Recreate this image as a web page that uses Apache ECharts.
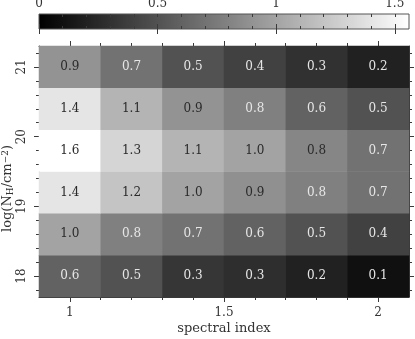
<!DOCTYPE html>
<html><head><meta charset="utf-8">
<script src="https://cdn.jsdelivr.net/npm/echarts@6/dist/echarts.min.js"></script>
<style>html,body{margin:0;padding:0;background:#fff}#c{width:415px;height:339px}</style>
</head><body><div id="c"></div>
<script>
// ---- data ----
const spectralIndex = [1.0, 1.2, 1.4, 1.6, 1.8, 2.0];
const logNH = [18.0, 18.6, 19.2, 19.8, 20.4, 21.0];
const row18_0 = [0.60, 0.50, 0.33, 0.28, 0.20, 0.10];
const row18_6 = [1.00, 0.78, 0.70, 0.60, 0.50, 0.40];
const row19_2 = [1.40, 1.20, 1.00, 0.88, 0.78, 0.70];
const row19_8 = [1.60, 1.30, 1.10, 1.00, 0.82, 0.70];
const row20_4 = [1.40, 1.10, 0.90, 0.78, 0.60, 0.50];
const row21_0 = [0.90, 0.70, 0.50, 0.40, 0.30, 0.20];
const rows = [row18_0, row18_6, row19_2, row19_8, row20_4, row21_0];

const xRange = [0.9, 2.1];
const yRange = [17.7, 21.3];
const cbRange = [0, 1.56];
const xMajorTicks = [1, 1.5, 2];
const xMinorTicks = [1.0, 1.1, 1.2, 1.3, 1.4, 1.5, 1.6, 1.7, 1.8, 1.9, 2.0];
const yMajorTicks = [18, 19, 20, 21];
const yMinorTicks = [17.8, 18.0, 18.2, 18.4, 18.6, 18.8, 19.0, 19.2, 19.4, 19.6, 19.8, 20.0, 20.2, 20.4, 20.6, 20.8, 21.0, 21.2];
const cbMajorTicks = [0, 0.5, 1, 1.5];
const cbMinorTicks = [0.1, 0.2, 0.3, 0.4, 0.5, 0.6, 0.7, 0.8, 0.9, 1.0, 1.1, 1.2, 1.3, 1.4, 1.5];
const xTitle = 'spectral index';

// ---- build ----
const FONT = 'DejaVu Serif';
const LINE = '#3a3a3a';
const heatData = [];
rows.forEach((r, yi) => r.forEach((v, xi) => heatData.push([xi, yi, v])));

function tickAxis(base, ticks, len, inside, showLabels, labelVals, extra) {
  return Object.assign({
    type: 'value', min: base.min, max: base.max, gridIndex: base.grid, position: base.pos,
    axisLine: { show: false, lineStyle: { color: LINE, width: 1 } },
    axisTick: { show: true, inside: inside, length: len, customValues: ticks, lineStyle: { color: LINE, width: 1 } },
    axisLabel: showLabels ? { show: true, customValues: labelVals, fontFamily: FONT, fontSize: 12, color: '#333', margin: base.margin } : { show: false },
    splitLine: { show: false }
  }, extra || {});
}

const xb = { min: xRange[0], max: xRange[1], grid: 0 };
const yb = { min: yRange[0], max: yRange[1], grid: 0 };
const cb = { min: cbRange[0], max: cbRange[1], grid: 1 };

const option = {
  animation: false,
  backgroundColor: '#fff',
  grid: [
    { left: 39, right: 6, top: 46, bottom: 42, show: false, containLabel: false, outerBoundsMode: 'none' },
    { left: 39, right: 6, top: 14, height: 15, show: true, borderColor: '#555', borderWidth: 1, containLabel: false, outerBoundsMode: 'none',
      backgroundColor: { type: 'linear', x: 0, y: 0, x2: 1, y2: 0, colorStops: [{ offset: 0, color: '#000' }, { offset: 1, color: '#fff' }] } }
  ],
  visualMap: { type: 'continuous', show: false, min: cbRange[0], max: cbRange[1], seriesIndex: 0, inRange: { color: ['#000000', '#ffffff'] } },
  xAxis: [
    { type: 'category', gridIndex: 0, data: spectralIndex, show: false },
    tickAxis(Object.assign({ pos: 'bottom', margin: 10 }, xb), xMajorTicks, 5, false, true, xMajorTicks,
      { axisLine: { show: true, lineStyle: { color: LINE } }, name: xTitle, nameLocation: 'middle', nameGap: 25, nameMoveOverlap: false,
        nameTextStyle: { fontFamily: FONT, fontSize: 13, color: '#333' } }),
    tickAxis(Object.assign({ pos: 'bottom' }, xb), xMinorTicks, 3, false, false),
    tickAxis(Object.assign({ pos: 'top' }, xb), xMajorTicks, 5, false, false, null, { axisLine: { show: true, lineStyle: { color: LINE } } }),
    tickAxis(Object.assign({ pos: 'top' }, xb), xMinorTicks, 3, false, false),
    // colorbar
    tickAxis(Object.assign({ pos: 'top', margin: 4 }, cb), cbMajorTicks, 5, true, true, cbMajorTicks),
    tickAxis(Object.assign({ pos: 'top' }, cb), cbMinorTicks, 3, true, false),
    tickAxis(Object.assign({ pos: 'bottom' }, cb), cbMajorTicks, 5, true, false),
    tickAxis(Object.assign({ pos: 'bottom' }, cb), cbMinorTicks, 3, true, false)
  ],
  yAxis: [
    { type: 'category', gridIndex: 0, data: logNH, show: false },
    tickAxis(Object.assign({ pos: 'left', margin: 11 }, yb), yMajorTicks, 5, false, true, yMajorTicks,
      { axisLine: { show: true, lineStyle: { color: LINE } },
        axisLabel: { show: true, customValues: yMajorTicks, rotate: 90, fontFamily: FONT, fontSize: 12, color: '#333', margin: 11 },
        name: 'log(N{sub|H}/cm{sup|−2})', nameLocation: 'middle', nameGap: 24, nameRotate: 90, nameMoveOverlap: false,
        nameTextStyle: { fontFamily: FONT, fontSize: 13, color: '#333', lineHeight: 14, padding: [0, 34, 0, 0],
          rich: { sub: { fontFamily: FONT, fontSize: 9, color: '#333', verticalAlign: 'bottom', lineHeight: 14 },
                  sup: { fontFamily: FONT, fontSize: 9, color: '#333', verticalAlign: 'top', lineHeight: 14 } } } }),
    tickAxis(Object.assign({ pos: 'left' }, yb), yMinorTicks, 3, false, false),
    tickAxis(Object.assign({ pos: 'right' }, yb), yMajorTicks, 5, false, false, null, { axisLine: { show: true, lineStyle: { color: LINE } } }),
    tickAxis(Object.assign({ pos: 'right' }, yb), yMinorTicks, 3, false, false),
    { type: 'value', gridIndex: 1, min: 0, max: 1, show: false }
  ],
  series: [{
    type: 'heatmap', xAxisIndex: 0, yAxisIndex: 0, data: heatData,
    itemStyle: { borderWidth: 0 },
    emphasis: { disabled: true },
    label: {
      show: true,
      formatter: p => { const v = p.value[2]; return '{' + (v >= 0.8 ? 'd' : 'l') + '|' + v.toFixed(1) + '}'; },
      rich: {
        d: { fontFamily: FONT, fontSize: 12, color: '#2a2a2a' },
        l: { fontFamily: FONT, fontSize: 12, color: '#e6e6e6' }
      }
    }
  }]
};
echarts.init(document.getElementById('c'), null, { renderer: 'canvas' }).setOption(option);
</script></body></html>
